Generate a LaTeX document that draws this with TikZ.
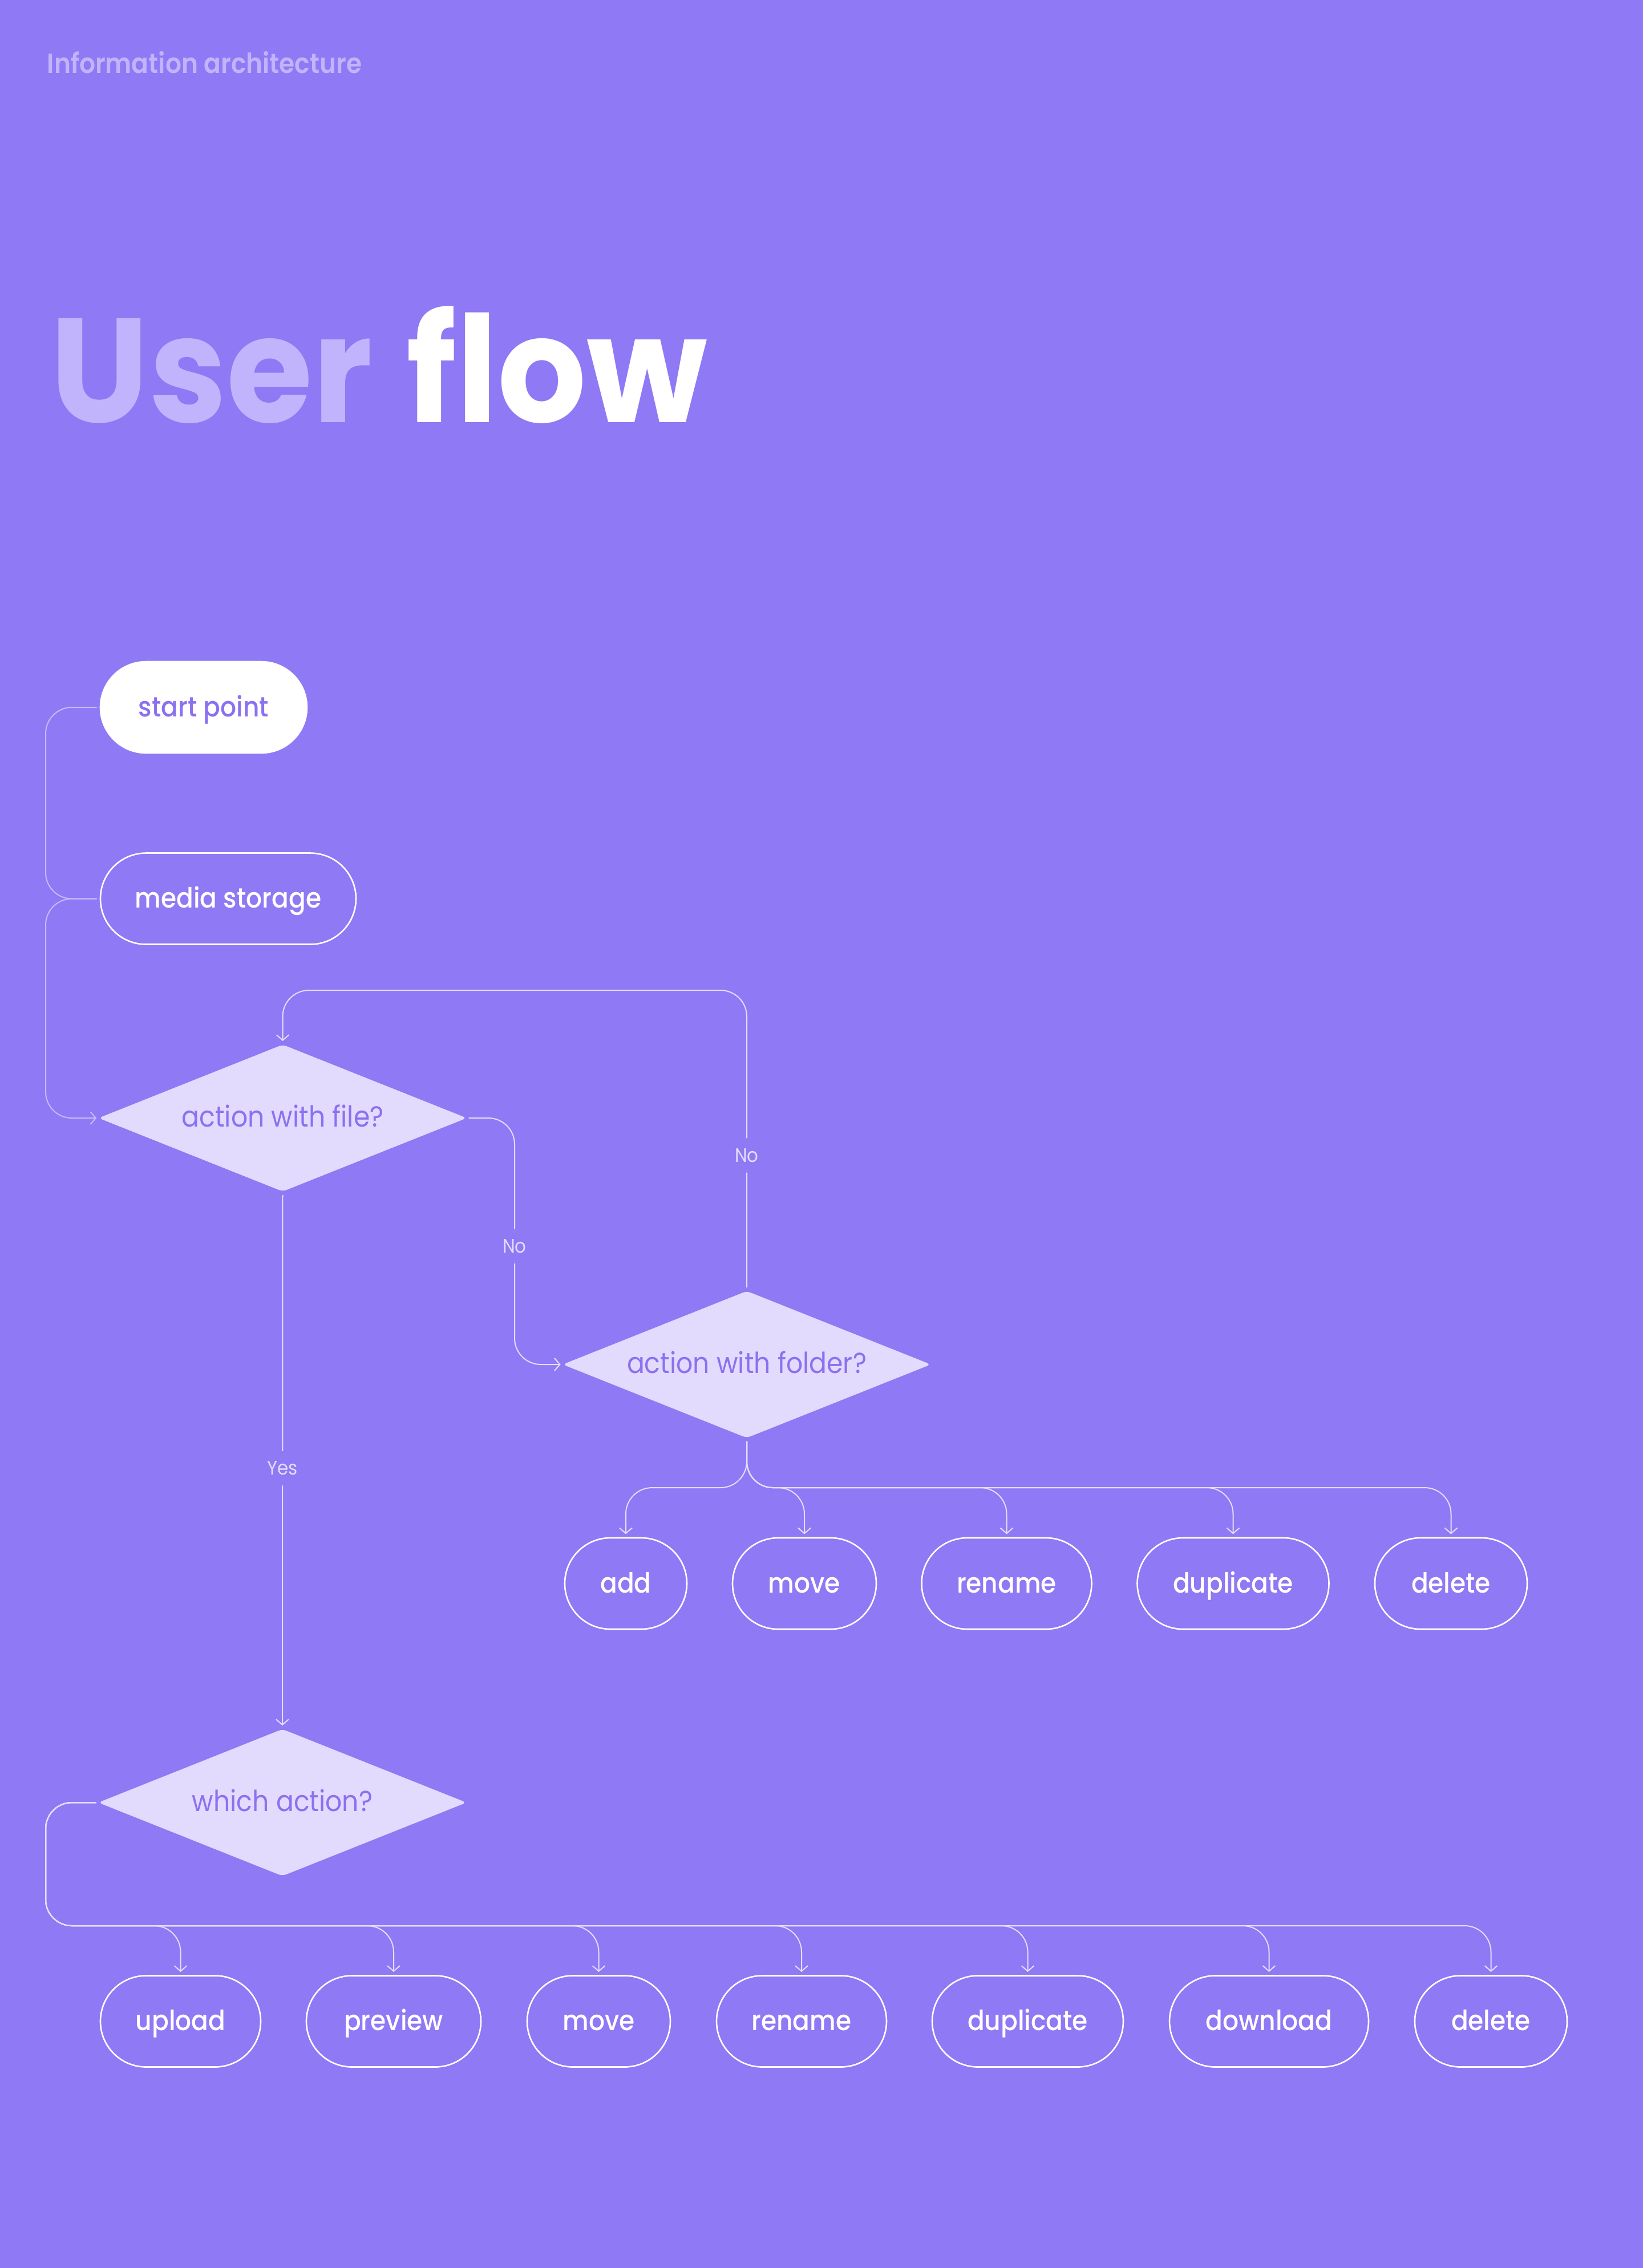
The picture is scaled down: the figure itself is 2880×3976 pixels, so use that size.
\documentclass[tikz,border=0pt]{standalone}
\usepackage{fontspec}
\setmainfont{Poppins}[FakeStretch=0.9]
\newfontfamily\medfont{Poppins Medium}[FakeStretch=0.9]
\newfontfamily\semifont{Poppins SemiBold}[FakeStretch=0.9]
\newfontfamily\boldfont{Poppins Bold}[FakeStretch=0.94]
\usetikzlibrary{arrows.meta,shapes.geometric}
\definecolor{bg}{HTML}{8F79F4}
\definecolor{lav}{HTML}{C2B4FC}
\definecolor{dia}{HTML}{E2DBFE}
\definecolor{ink}{HTML}{8B71F0}
\definecolor{cdim}{HTML}{C7BAFB}
\definecolor{cbright}{HTML}{E3DDFD}
\tikzset{
  pill/.style={draw=white, line width=0.65pt, rounded corners=20pt, minimum height=40pt,
    inner sep=0pt, text height=9pt, text depth=1pt, text=white,
    font=\medfont\fontsize{12.2}{14}\selectfont},
  startbox/.style={pill, fill=white, text=ink},
  decision/.style={diamond, aspect=2.49, fill=dia, rounded corners=1.8pt,
    minimum width=161.5pt, minimum height=64.5pt, inner sep=0pt,
    text height=8.5pt, text depth=1pt,
    text=ink, font=\fontsize{12.7}{14}\selectfont},
  conn/.style={draw=cbright, line width=0.5pt, rounded corners=11.5pt, shorten <=1.25pt},
  conndim/.style={conn, draw=cdim},
  arr/.style={-{Straight Barb[length=2.4pt,width=5.5pt]}, shorten >=1.3pt},
  lbl/.style={fill=bg, text=cbright, font=\fontsize{8.6}{10}\selectfont,
    inner xsep=2pt, inner ysep=4.5pt}
}
\begin{document}
\begin{tikzpicture}[x=0.25pt,y=-0.25pt]
\fill[bg] (0,0) rectangle (2880,3976);
\node[anchor=base west, inner sep=0pt, text=lav, font=\semifont\fontsize{12.2}{14}\selectfont] (ia) at (82,128) {Information architecture};
\node[anchor=base west, inner sep=0pt, font=\boldfont\fontsize{65}{70}\selectfont] (title) at (88,740) {\textcolor{lav}{User}\hspace{2pt} \textcolor{white}{flow}};

\coordinate (lx) at (80,0);
\coordinate (rx) at (902,0);
\coordinate (ty) at (0,1736);
\coordinate (fy) at (0,2608);
\coordinate (by) at (0,3376);

\node[startbox, minimum width=90.5pt] (start) at (357,1240) {start point};
\node[pill, minimum width=112pt] (media) at (400,1575.5) {media storage};
\node[decision] (file) at (495.5,1960) {action with file?};
\node[decision] (folder) at (1309,2392) {action with folder?};
\node[decision] (which) at (495,3160) {which action?};

\node[pill, minimum width=53.5pt] (fadd) at (1097,2776) {add};
\node[pill, minimum width=63pt] (fmove) at (1410,2776) {move};
\node[pill, minimum width=74.5pt] (frename) at (1764.5,2776) {rename};
\node[pill, minimum width=84pt] (fdup) at (2161.5,2776) {duplicate};
\node[pill, minimum width=66.75pt] (fdel) at (2543.5,2776) {delete};

\node[pill, minimum width=70.25pt] (upload) at (316.5,3543.5) {upload};
\node[pill, minimum width=76.5pt] (preview) at (690,3543.5) {preview};
\node[pill, minimum width=62.75pt] (amove) at (1049.5,3543.5) {move};
\node[pill, minimum width=74.5pt] (arename) at (1405,3543.5) {rename};
\node[pill, minimum width=83.75pt] (adup) at (1801.5,3543.5) {duplicate};
\node[pill, minimum width=87.25pt] (download) at (2224.5,3543.5) {download};
\node[pill, minimum width=66.75pt] (adel) at (2613.5,3543.5) {delete};

\draw[conndim, shorten >=1.25pt] (start.west) -- (start.west -| lx) -- (media.west -| lx) -- (media.west);
\draw[conndim, arr, shorten >=0.6pt] (media.west) -- (media.west -| lx) -- (file.west -| lx) -- (file.west);
\draw[conn, arr] (folder.north) -- node[lbl, pos=0.45] (no1) {No} (folder.north |- ty) -- (file.north |- ty) -- (file.north);
\draw[conn, arr, shorten <=0.6pt, shorten >=0.6pt] (file.east) -- (file.east -| rx) -- node[lbl, pos=0.52] (no2) {No} (folder.west -| rx) -- (folder.west);
\draw[conn, arr] (file.south) -- node[lbl, pos=0.515] (yes) {Yes} (which.north);

\foreach \c in {fadd,fmove,frename,fdup,fdel}{
  \draw[conn, arr] (folder.south) -- (folder.south |- fy) -- (\c.north |- fy) -- (\c.north);
}
\foreach \c in {upload,preview,amove,arename,adup,download,adel}{
  \draw[conn, arr, shorten <=0.6pt] (which.west) -- (which.west -| lx) -- (lx |- by) -- (\c.north |- by) -- (\c.north);
}
\end{tikzpicture}
\end{document}
